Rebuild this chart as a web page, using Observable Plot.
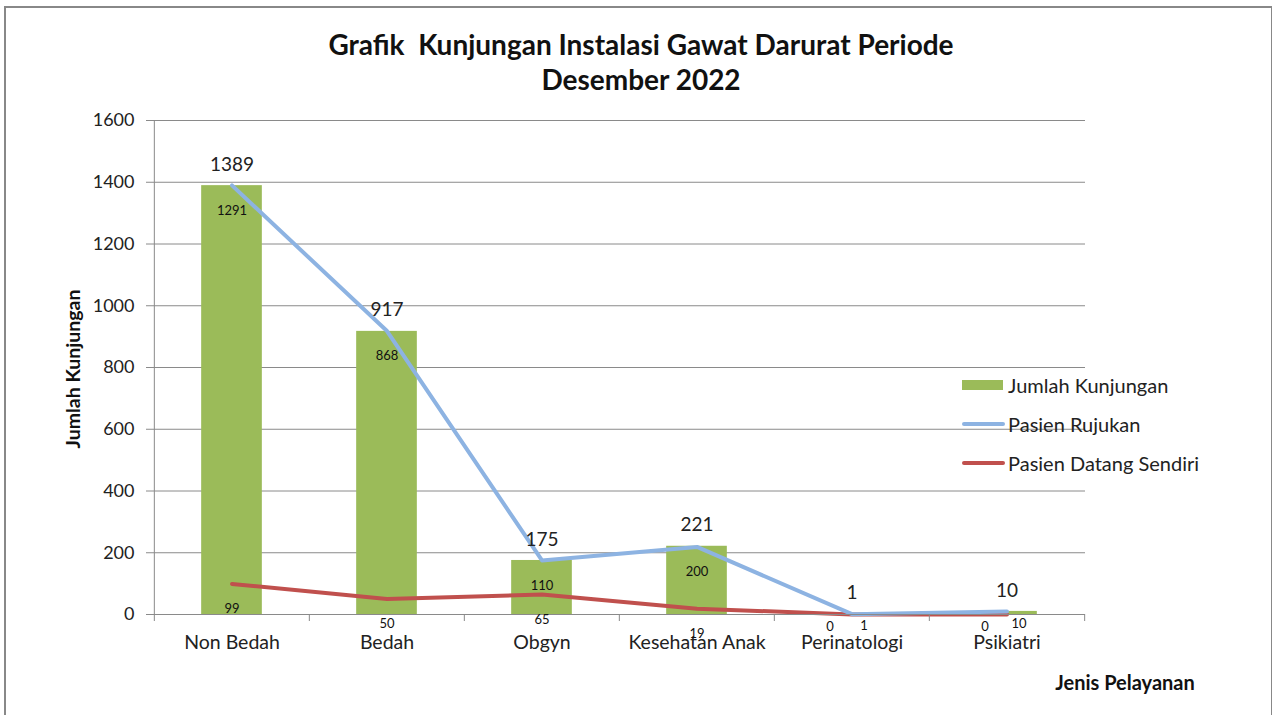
<!DOCTYPE html>
<html>
<head>
<meta charset="utf-8">
<script src="https://cdn.jsdelivr.net/npm/d3@7"></script>
<script src="https://cdn.jsdelivr.net/npm/@observablehq/plot@0.6"></script>
<style>
  html, body { margin: 0; padding: 0; background: #fff; }
  #wrap { position: relative; width: 1275px; height: 715px; overflow: hidden; font-family: Lato, "Open Sans", sans-serif; color: #222; }
  #frame { position: absolute; left: 4px; top: 6px; width: 1268px; height: 720px; border-left: 2px solid #888; border-top: 2px solid #888; border-right: 1px solid #888; box-sizing: border-box; }
  .title { position: absolute; left: 0; width: 1282px; text-align: center; font-weight: bold; font-size: 28px; color: #111; }
  #ylab { position: absolute; left: 72px; top: 369px; transform: translate(-50%, -50%) rotate(-90deg); font-weight: bold; font-size: 19.5px; white-space: nowrap; color: #111; }
  #xlab { position: absolute; left: 1125px; top: 682px; transform: translate(-50%, -50%); font-weight: bold; font-size: 20px; white-space: nowrap; color: #111; }
  #legend { position: absolute; left: 961px; top: 372px; font-size: 20px; color: #222; }
  .li { position: relative; height: 39px; }
  .sw { position: absolute; left: 1px; }
  .lt { position: absolute; left: 47px; top: 0; line-height: 26px; white-space: nowrap; }
  svg { position: absolute; left: 0; top: 0; }
</style>
</head>
<body>
<div id="wrap">
  <div id="frame"></div>
  <div id="chart"></div>
  <div class="title" style="top:27px">Grafik&nbsp; Kunjungan Instalasi Gawat Darurat Periode</div>
  <div class="title" style="top:62px">Desember 2022</div>
  <div id="ylab">Jumlah Kunjungan</div>
  <div id="xlab">Jenis Pelayanan</div>
  <div id="legend"></div>
</div>
<script>
const categories = ["Non Bedah", "Bedah", "Obgyn", "Kesehatan Anak", "Perinatologi", "Psikiatri"];
const jumlahKunjungan = [1389, 917, 175, 221, 1, 10];
const pasienRujukan = [1291, 868, 110, 200, 1, 10];
const pasienDatangSendiri = [99, 50, 65, 19, 0, 0];
const yTicks = [0, 200, 400, 600, 800, 1000, 1200, 1400, 1600];
const seriesNames = ["Jumlah Kunjungan", "Pasien Rujukan", "Pasien Datang Sendiri"];
const colors = ["#9bbb59", "#8db3e2", "#c0504d"];

const rows = categories.map((c, i) => ({
  cat: c,
  jumlah: jumlahKunjungan[i],
  rujukan: pasienRujukan[i],
  sendiri: pasienDatangSendiri[i],
  stacked: pasienRujukan[i] + pasienDatangSendiri[i]
}));
// labels of points lying on the baseline are pushed sideways, as the reference does
const nearBase = d => d.stacked <= 10;
const rowsUp = rows.filter(d => !nearBase(d));
const rowsBase = rows.filter(nearBase);

const W = 1275, H = 715, mL = 153, mR = 190, mT = 120, mB = 101;
const bw = (W - mL - mR) / categories.length;
const inset = (bw - 61) / 2;

const chart = Plot.plot({
  width: W, height: H,
  marginLeft: mL, marginRight: mR, marginTop: mT, marginBottom: mB,
  style: { fontFamily: "Lato, 'Open Sans', sans-serif", background: "transparent", color: "#222" },
  x: { domain: categories, padding: 0, label: null },
  y: { domain: [0, 1600], label: null },
  marks: [
    Plot.gridY(yTicks.filter(d => d > 0), { stroke: "#8a8a8a", strokeOpacity: 1, strokeWidth: 1 }),
    Plot.barY(rows, { x: "cat", y: "jumlah", fill: colors[0], insetLeft: inset, insetRight: inset }),
    Plot.line(rows, { x: "cat", y: "sendiri", stroke: colors[2], strokeWidth: 4, strokeLinejoin: "round", strokeLinecap: "round" }),
    Plot.line(rows, { x: "cat", y: "stacked", stroke: colors[1], strokeWidth: 4, strokeLinejoin: "round", strokeLinecap: "round" }),
    Plot.ruleY([0], { stroke: "#8a8a8a", strokeWidth: 1 }),
    Plot.ruleX([0], { x: () => categories[0], dx: -bw / 2, y1: 0, y2: 1600, stroke: "#8a8a8a" }),
    Plot.axisY({ ticks: yTicks, tickFormat: d => String(d), tickSize: 7, tickPadding: 12, fontSize: 18, stroke: "#8a8a8a", fill: "#222", label: null }),
    Plot.axisX({ tickSize: 7, tickFormat: () => "", dx: -bw / 2, stroke: "#8a8a8a", label: null }),
    Plot.axisX({ ticks: [categories[categories.length - 1]], tickSize: 7, tickFormat: () => "", dx: bw / 2, stroke: "#8a8a8a", label: null }),
    Plot.axisX({ tickSize: 0, tickPadding: 21, fontSize: 19.5, fill: "#222", label: null }),
    Plot.text(rows, { x: "cat", y: "jumlah", text: d => String(d.jumlah), dy: -21, fontSize: 19, fill: "#222" }),
    Plot.text(rowsUp, { x: "cat", y: "stacked", text: d => String(d.rujukan), dy: 25, fontSize: 13, fill: "#111" }),
    Plot.text(rowsUp, { x: "cat", y: "sendiri", text: d => String(d.sendiri), dy: 25, fontSize: 13, fill: "#111" }),
    Plot.text(rowsBase, { x: "cat", y: "stacked", text: d => String(d.rujukan), dx: 12, dy: 12, fontSize: 13, fill: "#111" }),
    Plot.text(rowsBase, { x: "cat", y: "sendiri", text: d => String(d.sendiri), dx: -22, dy: 12, fontSize: 13, fill: "#111" })
  ]
});
document.getElementById("chart").appendChild(chart);

const legend = document.getElementById("legend");
seriesNames.forEach((name, i) => {
  const li = document.createElement("div");
  li.className = "li";
  const sw = document.createElement("div");
  sw.className = "sw";
  if (i === 0) {
    sw.style.cssText = `top:8px;width:41px;height:10px;background:${colors[i]};`;
  } else {
    sw.style.cssText = `top:11px;width:43px;height:4px;border-radius:2px;background:${colors[i]};`;
  }
  const t = document.createElement("div");
  t.className = "lt";
  t.textContent = name;
  li.appendChild(sw);
  li.appendChild(t);
  legend.appendChild(li);
});
</script>
</body>
</html>
